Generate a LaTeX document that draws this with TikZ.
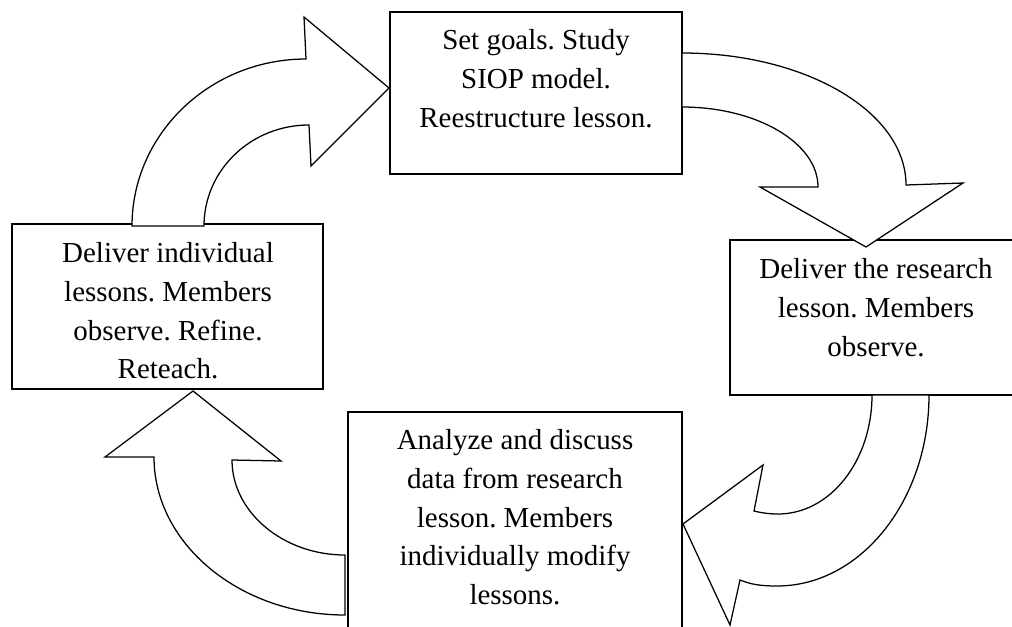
\documentclass[tikz,border=0pt]{standalone}
\usepackage{fontspec}
\setmainfont{Liberation Serif}
\frenchspacing
\begin{document}
\begin{tikzpicture}[x=0.025cm, y=-0.025cm,
  box/.style={draw, line width=0.9pt, fill=white, rectangle, inner sep=0pt, outer sep=0pt, anchor=north west},
  txt/.style={align=center, inner sep=0pt, anchor=north, font=\fontsize{20.6}{27.6}\selectfont},
  blockarrow/.style={draw, fill=white, line width=0.9pt, line join=miter}]
  % page area
  \fill[white] (0,0) rectangle (1012,626);
  \clip (0,0) rectangle (1012,626);

  % the four stages
  \node[box, minimum width=7.3cm,   minimum height=4.05cm]  (goals)   at (390,12)  {};
  \node[box, minimum width=7.775cm, minimum height=4.125cm] (indiv)   at (12,224)  {};
  \node[box, minimum width=7.5cm,   minimum height=3.875cm] (deliver) at (730,240) {};
  \node[box, minimum width=8.35cm,  minimum height=5.7cm]   (analyze) at (348,412) {};

  \node[txt] (goals-t)   at (536,29)  {Set goals. Study\\SIOP model.\\Reestructure lesson.};
  \node[txt] (indiv-t)   at (168,242) {Deliver individual\\lessons. Members\\observe. Refine.\\Reteach.};
  \node[txt] (deliver-t) at (876,258) {Deliver the research\\lesson. Members\\observe.};
  \node[txt] (analyze-t) at (515,429) {Analyze and discuss\\data from research\\lesson. Members\\individually modify\\lessons.};

  % curved block arrows of the cycle
  % individual lessons -> goals
  \draw[blockarrow] (204,226) -- (132,226)
    .. controls (132,134) and (210,59) .. (306,59)
    -- (304,17) -- (389,88) -- (311,166) -- (309,125)
    .. controls (251,125) and (204,170) .. (204,226) -- cycle;
  % goals -> research lesson
  \draw[blockarrow] (682,107) -- (682,53)
    .. controls (806,53) and (906,112) .. (906,185)
    -- (963,183) -- (866,247) -- (760,187) -- (818,187)
    .. controls (818,143) and (757,107) .. (682,107) -- cycle;
  % research lesson -> analysis
  \draw[blockarrow] (872,395) -- (929,395)
    .. controls (929,500) and (861,586) .. (777,586)
    .. controls (759,586) and (750,584) .. (740,580)
    -- (730,625) -- (683,524) -- (763,465) -- (754,511)
    .. controls (762,513) and (770,514) .. (778,514)
    .. controls (830,514) and (872,461) .. (872,395) -- cycle;
  % analysis -> individual lessons
  \draw[blockarrow] (345,555) -- (345,615)
    .. controls (240,615) and (154,544) .. (154,457)
    -- (105,457) -- (193,391) -- (281,461) -- (232,460)
    .. controls (232,512) and (283,555) .. (345,555) -- cycle;
\end{tikzpicture}
\end{document}
